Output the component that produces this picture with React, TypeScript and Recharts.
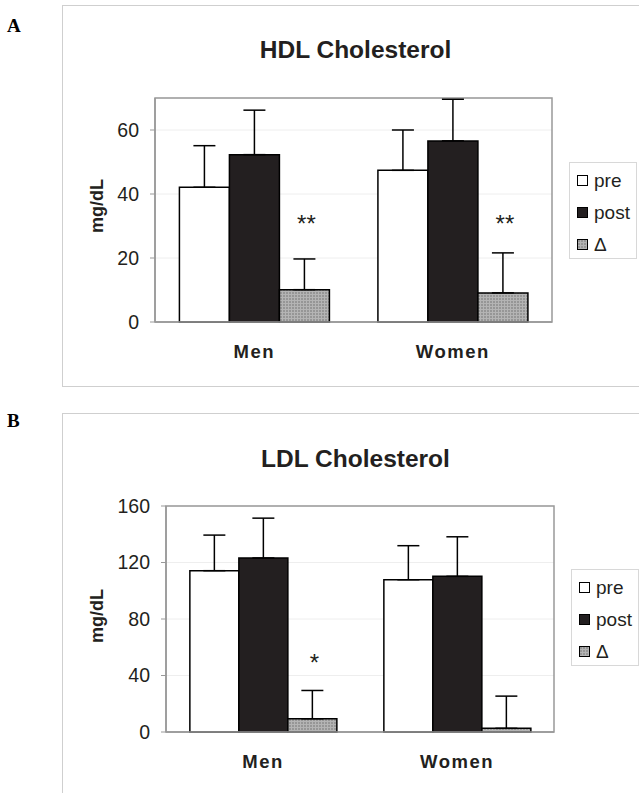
import React from 'react';
import {
  BarChart, Bar, XAxis, YAxis, CartesianGrid, Legend, ErrorBar, LabelList, ReferenceArea,
} from 'recharts';

// --- data ---
const categories = ['Men', 'Women'];
const seriesNames = ['pre', 'post', 'Δ'];

const hdlPre = [42.1, 47.4];
const hdlPost = [52.3, 56.6];
const hdlDelta = [10.1, 9.1];
const hdlPreSd = [13.0, 12.6];
const hdlPostSd = [13.9, 13.0];
const hdlDeltaSd = [9.6, 12.5];
const hdlSig = ['**', '**'];
const hdlTicks = [0, 20, 40, 60];

const ldlPre = [114.2, 107.8];
const ldlPost = [123.2, 110.2];
const ldlDelta = [9.4, 2.6];
const ldlPreSd = [25.2, 24.1];
const ldlPostSd = [28.2, 28.0];
const ldlDeltaSd = [20.0, 22.8];
const ldlSig = ['*', ''];
const ldlTicks = [0, 40, 80, 120, 160];

const buildRows = (pre: number[], post: number[], delta: number[], preSd: number[], postSd: number[], deltaSd: number[], sig: string[]) =>
  categories.map((name, i) => ({
    name,
    pre: pre[i],
    post: post[i],
    delta: delta[i],
    preErr: [0, preSd[i]],
    postErr: [0, postSd[i]],
    deltaErr: [0, deltaSd[i]],
    sig: sig[i],
  }));

const hdlData = buildRows(hdlPre, hdlPost, hdlDelta, hdlPreSd, hdlPostSd, hdlDeltaSd, hdlSig);
const ldlData = buildRows(ldlPre, ldlPost, ldlDelta, ldlPreSd, ldlPostSd, ldlDeltaSd, ldlSig);

const FONT = '"Liberation Sans", Arial, sans-serif';
const INK = '#231f20';

const LegendBox = ({ payload }: any) => {
  const items = [...(payload || [])].sort((a: any, b: any) => seriesNames.indexOf(a.value) - seriesNames.indexOf(b.value));
  return (
    <div style={{
      width: '100%', height: '100%', boxSizing: 'border-box', border: '1px solid #d8d8d8',
      background: '#fff', paddingTop: 1, fontFamily: FONT,
    }}>
      {items.map((entry: any) => (
        <div key={entry.value} style={{ height: 32, display: 'flex', alignItems: 'center', paddingLeft: 7 }}>
          <svg width={11} height={11} style={{ marginRight: 6 }}>
            <rect x={0.5} y={0.5} width={10} height={10} fill={entry.color} stroke="#000" strokeWidth={1} />
          </svg>
          <span style={{ fontSize: 19, color: INK, lineHeight: '19px' }}>{entry.value}</span>
        </div>
      ))}
    </div>
  );
};

const CategoryTick = ({ x, y, payload }: any) => (
  <text x={x} y={y} dy="0.71em" textAnchor="middle" fill={INK}
    style={{ fontFamily: FONT, fontSize: 18.5, fontWeight: 'bold', letterSpacing: '1.5px' }}>
    {payload.value}
  </text>
);

interface PanelProps {
  id: string;
  data: typeof hdlData;
  ticks: number[];
  yMax: number;
  markAt: number;
  width: number;
  height: number;
  margin: { top: number; right: number; bottom: number; left: number };
  yAxisWidth: number;
  legendPos: { left: number; top: number };
}

const Panel: React.FC<PanelProps> = ({ id, data, ticks, yMax, markAt, width, height, margin, yAxisWidth, legendPos }) => {
  const patId = `delta-${id}`;
  // asterisks drawn at a fixed level above the delta bars
  const renderSig = (props: any) => {
    const vb = props.viewBox || props;
    const { x, y, width: w, height: h } = vb;
    const row = data[props.index];
    if (!row || !row.sig || !row.delta) return null;
    const perUnit = h / row.delta;
    const base = y + h - markAt * perUnit;
    return (
      <text x={x + w / 2 + 2} y={base} textAnchor="middle" fill={INK} style={{ fontFamily: FONT, fontSize: 24 }}>
        {row.sig}
      </text>
    );
  };

  return (
    <BarChart width={width} height={height} data={data} margin={margin} barCategoryGap="12.3%" barGap={0}>
      <defs>
        <pattern id={patId} width={3} height={3} patternUnits="userSpaceOnUse">
          <rect width={3} height={3} fill="#969696" />
          <rect width={1} height={3} fill="#b4b4b4" />
          <rect width={3} height={1} fill="#b4b4b4" />
        </pattern>
      </defs>
      <CartesianGrid horizontal vertical={false} stroke="#eeeeee" />
      <XAxis dataKey="name" height={30} tickLine={false} tickSize={0} tickMargin={23}
        axisLine={{ stroke: '#999', strokeWidth: 1.5 }} tick={<CategoryTick />} />
      <YAxis domain={[0, yMax]} ticks={ticks} width={yAxisWidth} tickSize={5} tickMargin={11}
        axisLine={{ stroke: '#999', strokeWidth: 1.5 }} tickLine={{ stroke: '#999' }}
        tick={{ fill: INK, fontSize: 19.5, fontFamily: FONT }} />
      <ReferenceArea y1={0} y2={yMax} fill="none" stroke="#999" strokeWidth={1.5} />
      <Legend layout="vertical" align="right" verticalAlign="middle" content={<LegendBox />}
        wrapperStyle={{ left: legendPos.left, top: legendPos.top, width: 68, height: 97 }} />
      <Bar dataKey="pre" name="pre" fill="#ffffff" stroke="#000" strokeWidth={1.5} isAnimationActive={false}>
        <ErrorBar dataKey="preErr" width={11} stroke="#000" strokeWidth={1.5} direction="y" isAnimationActive={false} />
      </Bar>
      <Bar dataKey="post" name="post" fill={INK} stroke="#000" strokeWidth={1.5} isAnimationActive={false}>
        <ErrorBar dataKey="postErr" width={11} stroke="#000" strokeWidth={1.5} direction="y" isAnimationActive={false} />
      </Bar>
      <Bar dataKey="delta" name="Δ" fill={`url(#${patId})`} stroke="#000" strokeWidth={1.5} isAnimationActive={false}>
        <ErrorBar dataKey="deltaErr" width={11} stroke="#000" strokeWidth={1.5} direction="y" isAnimationActive={false} />
        <LabelList dataKey="sig" content={renderSig} />
      </Bar>
    </BarChart>
  );
};

const titleStyle: React.CSSProperties = {
  position: 'absolute', left: 155, width: 401, textAlign: 'center', fontFamily: FONT,
  fontSize: 24.5, fontWeight: 'bold', lineHeight: '24px', color: INK,
};
const letterStyle: React.CSSProperties = {
  position: 'absolute', left: 7, fontFamily: '"Liberation Serif", "Times New Roman", serif',
  fontSize: 19, fontWeight: 'bold', lineHeight: '19px', color: '#000',
};
const unitStyle: React.CSSProperties = {
  position: 'absolute', width: 100, height: 22, marginLeft: -50, marginTop: -11, textAlign: 'center',
  lineHeight: '22px', fontFamily: FONT, fontSize: 18, fontWeight: 'bold', color: INK, transform: 'rotate(-90deg)',
};

export default function App() {
  return (
    <div style={{ position: 'absolute', left: 0, top: 0, width: 639, height: 793, overflow: 'hidden', background: '#fff' }}>
      <div style={{ ...letterStyle, top: 16 }}>A</div>
      <div style={{ ...letterStyle, top: 411 }}>B</div>
      <div style={{ position: 'absolute', left: 62, top: 5, width: 620, height: 380, border: '1px solid #cfcfcf' }} />
      <div style={{ position: 'absolute', left: 62, top: 413, width: 620, height: 420, border: '1px solid #cfcfcf' }} />

      <div style={{ position: 'absolute', left: 0, top: 0 }}>
        <Panel id="hdl" data={hdlData} ticks={hdlTicks} yMax={70} markAt={28}
          width={639} height={400} margin={{ top: 98, right: 19, bottom: 48, left: 39 }} yAxisWidth={116}
          legendPos={{ left: 569, top: 162 }} />
      </div>
      <div style={{ ...titleStyle, top: 38 }}>HDL Cholesterol</div>
      <div style={{ ...unitStyle, left: 97, top: 206 }}>mg/dL</div>

      <div style={{ position: 'absolute', left: 0, top: 400 }}>
        <Panel id="ldl" data={ldlData} ticks={ldlTicks} yMax={160} markAt={43}
          width={639} height={393} margin={{ top: 106, right: 17, bottom: 31, left: 28 }} yAxisWidth={138}
          legendPos={{ left: 571, top: 169 }} />
      </div>
      <div style={{ ...titleStyle, top: 447 }}>LDL Cholesterol</div>
      <div style={{ ...unitStyle, left: 97, top: 616 }}>mg/dL</div>
    </div>
  );
}
